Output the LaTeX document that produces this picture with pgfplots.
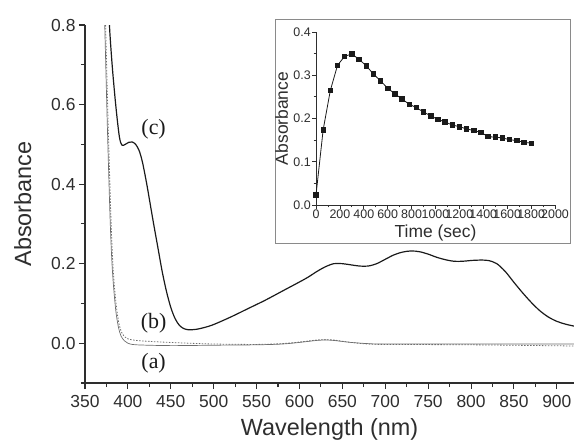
\documentclass[border=0pt]{standalone}
\usepackage{fontspec}
\setmainfont{Liberation Sans}
\newfontfamily\timesfont{Liberation Serif}
\usepackage{pgfplots}
\pgfplotsset{compat=1.18}
\definecolor{axc}{HTML}{2E2E2E}
\definecolor{curvec}{HTML}{1A1A1A}
\definecolor{thinc}{HTML}{6E6E6E}
\definecolor{framec}{HTML}{8A8A8A}
\begin{document}
\begin{tikzpicture}
\path[use as bounding box] (-85bp,-63bp) rectangle (491bp,383bp);
\begin{axis}[
  at={(0bp,0bp)}, anchor=south west,
  scale only axis, width=489bp, height=358bp,
  xmin=350, xmax=920, ymin=-0.1, ymax=0.8,
  axis lines=left, axis line style={-, line width=1.4pt, color=axc},
  tick align=outside,
  major tick length=6bp, minor tick length=4bp,
  every tick/.style={line width=1.1pt, color=axc},
  xtick={350,400,...,900}, minor xtick={375,425,...,925},
  ytick={0,0.2,0.4,0.6,0.8}, minor ytick={-0.1,0.1,0.3,0.5,0.7},
  yticklabel style={/pgf/number format/.cd,fixed,fixed zerofill,precision=1},
  xticklabel style={yshift=-3bp},
  /pgf/number format/assume math mode=true,
  tick label style={font=\fontsize{17.5}{19}\selectfont, color=axc},
  xlabel={Wavelength (nm)}, ylabel={Absorbance},
  label style={font=\fontsize{23.5}{25}\selectfont, color=axc},
  xlabel style={yshift=-4bp},
  ylabel style={yshift=13bp},
  clip=true,
]
% curve (c)
\addplot[curvec, line width=1.2pt, smooth] coordinates {
(378,0.83) (379,0.78) (382,0.69) (386,0.595) (390,0.52) (393,0.498) (397,0.500)
(401,0.505) (405,0.506) (409,0.500) (413,0.485) (417,0.455) (422,0.40)
(426,0.35) (430,0.30) (435,0.24) (440,0.18) (445,0.13) (450,0.09) (455,0.062)
(460,0.045) (465,0.037) (470,0.034) (475,0.034) (480,0.035) (490,0.040)
(500,0.047) (520,0.066) (540,0.087) (560,0.108) (580,0.131) (600,0.154)
(610,0.166) (620,0.180) (630,0.192) (640,0.200) (650,0.200) (660,0.197)
(670,0.194) (680,0.194) (690,0.200) (700,0.211) (710,0.222) (720,0.229)
(730,0.232) (740,0.230) (750,0.224) (760,0.216) (770,0.210) (780,0.206)
(790,0.206) (800,0.208) (810,0.209) (820,0.208) (830,0.200) (840,0.180)
(850,0.153) (860,0.127) (870,0.103) (880,0.082) (890,0.066) (900,0.055)
(910,0.048) (920,0.043)};
% curve (a) thin solid
\addplot[thinc, line width=0.7pt, smooth] coordinates {
(372.5,0.83) (373,0.80) (376,0.55) (379,0.33) (381,0.22) (383,0.15) (386,0.08)
(389,0.04) (392,0.018) (396,0.006) (400,0.0) (410,-0.004) (450,-0.006)
(500,-0.005) (550,-0.004) (580,-0.002) (600,0.002) (620,0.007) (630,0.008)
(640,0.007) (660,0.002) (680,-0.001) (700,-0.002) (800,-0.002) (920,-0.002)};
% curve (b) dotted
\addplot[thinc, line width=0.8pt, dash pattern=on 1.5pt off 1.5pt, smooth] coordinates {
(373.5,0.83) (374,0.80) (377,0.55) (380,0.33) (382,0.22) (384,0.15) (387,0.085)
(390,0.045) (394,0.022) (400,0.011) (410,0.007) (430,0.004) (460,0.001)
(500,-0.002) (550,-0.003) (580,-0.001) (600,0.003) (620,0.008) (630,0.009)
(640,0.008) (660,0.002) (680,-0.002) (700,-0.003) (800,-0.004) (920,-0.007)};
\node[font=\timesfont\fontsize{22}{24}\selectfont, color=curvec] at (axis cs:430,0.539) {(c)};
\node[font=\timesfont\fontsize{22}{24}\selectfont, color=curvec] at (axis cs:430,0.051) {(b)};
\node[font=\timesfont\fontsize{22}{24}\selectfont, color=curvec] at (axis cs:430,-0.050) {(a)};
\end{axis}
% inset frame
\draw[framec, line width=1pt, fill=white] (190bp,140bp) rectangle (485bp,363bp);
\begin{axis}[
  at={(231bp,178bp)}, anchor=south west,
  scale only axis, width=239bp, height=173bp,
  xmin=0, xmax=2000, ymin=0, ymax=0.4,
  axis lines=left, axis line style={-, line width=0.9pt, color=axc},
  tick align=outside,
  major tick length=4bp, minor tick length=2.5bp,
  every tick/.style={line width=0.8pt, color=axc},
  xtick={0,200,...,2000}, minor xtick={100,300,...,1900},
  ytick={0,0.1,0.2,0.3,0.4}, minor ytick={0.05,0.15,0.25,0.35},
  yticklabel style={/pgf/number format/.cd,fixed,fixed zerofill,precision=1},
  xticklabel style={/pgf/number format/.cd,set thousands separator={}},
  /pgf/number format/assume math mode=true,
  tick label style={font=\fontsize{12.5}{14}\selectfont, color=axc, inner sep=1pt},
  xlabel={Time (sec)}, ylabel={Absorbance},
  label style={font=\fontsize{17.5}{19}\selectfont, color=axc},
  xlabel style={yshift=-1bp},
  ylabel style={yshift=1bp},
  clip=false,
]
\addplot[curvec, line width=0.8pt, mark=square*, mark size=2.2bp, mark options={fill=curvec}] coordinates {
(0,0.023) (60,0.174) (120,0.265) (180,0.323) (240,0.344) (300,0.349)
(360,0.337) (420,0.322) (480,0.303) (540,0.287) (600,0.270) (660,0.257)
(720,0.245) (780,0.233) (840,0.225) (900,0.215) (960,0.206) (1020,0.198)
(1080,0.192) (1140,0.185) (1200,0.181) (1260,0.176) (1320,0.172) (1380,0.168)
(1440,0.158) (1500,0.157) (1560,0.155) (1620,0.151) (1680,0.149) (1740,0.145)
(1800,0.143)};
\end{axis}
\end{tikzpicture}
\end{document}
